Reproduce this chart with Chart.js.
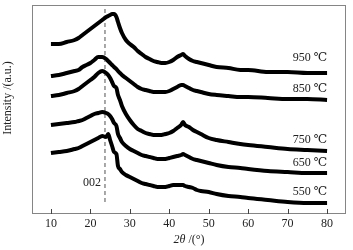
<!DOCTYPE html>
<html>
<head>
<meta charset="utf-8">
<script src="https://cdn.jsdelivr.net/npm/chart.js@4"></script>
<style>
  body { margin: 0; background: #fff; }
  canvas { display: block; }
</style>
</head>
<body>
<canvas id="xrdChart" width="353" height="250"></canvas>
<script>
// 2theta positions (deg) shared by all patterns
const angles = [10,12,14,16,17,18,19,20,21,22,23,24,24.5,25,25.5,26,26.6,27,27.5,28,29,30,31,32,33,34,35,36,37,38,39,40,41,42,43,43.5,44,45,46,47,48,50,52,55,58,60,65,70,75,80]

// intensities (a.u., stacked with offset)
const i950 = [170,170,172,174,176,179,182,185,188,191,194,197,198,199,200,200,197,192,186,181,174,170,167,163,160,157,155,153,152,151,151,152,154,157,159,160,158,155,153,152,151,149,147,146,144,144,142,142,141,141]
const i850 = [138,139,141,143,144,147,149,151,154,157,157,155,153,151,149,147,145,143,141,139,136,133,130,127,125,124,123,122,122,122,122,123,125,127,129,129,128,126,124,123,122,120,119,118,117,117,116,115,115,114]
const i750 = [118,119,121,123,125,128,131,134,137,141,143,141,139,136,132,128,126,119,114,108,100,94,89,85,83,81,80,79,79,79,80,81,83,86,89,92,89,87,84,82,80,76,74,72,70,69,67,65,64,63]
const i650 = [89,90,91,92,93,94,96,98,100,101,102,101,100,98,95,91,88,80,76,72,68,65,63,61,59,58,57,56,55,55,55,56,57,58,59,60,59,57,55,54,53,51,49,47,46,45,43,42,41,41]
const i550 = [61,62,63,65,66,68,70,72,74,76,78,77,80,74,68,62,60,48,45,42,39,37,35,33,31,30,29,28,27,27,27,28,29,29,29,29,28,27,26,24,23,22,20,18,17,16,14,12,11,11]

const seriesNames = ["950 ℃", "850 ℃", "750 ℃", "650 ℃", "550 ℃"]
const seriesData = [i950, i850, i750, i650, i550]
// where each temperature label sits (2theta, intensity)
const labelY = [156, 125, 74, 51, 22]
const labelX = 80

const xTicks = [10, 20, 30, 40, 50, 60, 70, 80]
const peak002 = 23.7

const serif = "'Liberation Serif', 'DejaVu Serif', serif"

const toPoints = (vals) => vals.map((v, i) => ({ x: angles[i], y: v }))

const datasets = seriesData.map((vals, i) => ({
  label: seriesNames[i],
  data: toPoints(vals),
  borderColor: "#000",
  borderWidth: 4,
  pointRadius: 0,
  cubicInterpolationMode: "monotone",
  order: 0
}))

datasets.push({
  label: "002",
  data: [{ x: peak002, y: 12 }, { x: peak002, y: 209 }],
  borderColor: "#6e6e6e",
  borderWidth: 1.2,
  borderDash: [4, 3],
  pointRadius: 0,
  order: 1
})

const decorations = {
  id: "decorations",
  afterDraw(chart) {
    const { ctx, chartArea: a, scales } = chart
    const x = scales.x
    const y = scales.y
    ctx.save()

    // frame
    ctx.strokeStyle = "#858585"
    ctx.lineWidth = 1
    ctx.strokeRect(a.left + 0.5, a.top + 0.5, a.right - a.left - 1, a.bottom - a.top - 1)

    // inward ticks on the bottom
    ctx.strokeStyle = "#444"
    xTicks.forEach(t => {
      const px = Math.round(x.getPixelForValue(t)) + 0.5
      ctx.beginPath()
      ctx.moveTo(px, a.bottom)
      ctx.lineTo(px, a.bottom - 5)
      ctx.stroke()
    })

    // temperature labels
    ctx.fillStyle = "#222"
    ctx.font = "12px " + serif
    ctx.textAlign = "right"
    ctx.textBaseline = "middle"
    seriesNames.forEach((name, i) => {
      ctx.fillText(name, x.getPixelForValue(labelX), y.getPixelForValue(labelY[i]))
    })
    ctx.fillText("002", x.getPixelForValue(22.7), y.getPixelForValue(31))

    // axis titles
    ctx.textAlign = "left"
    const cx = (a.left + a.right) / 2
    ctx.font = "italic 12px " + serif
    const w1 = ctx.measureText("2θ").width
    ctx.font = "12px " + serif
    const w2 = ctx.measureText(" /(°)").width
    const startX = cx - (w1 + w2) / 2
    ctx.font = "italic 12px " + serif
    ctx.fillText("2θ", startX, 240)
    ctx.font = "12px " + serif
    ctx.fillText(" /(°)", startX + w1, 240)

    ctx.translate(8, 98)
    ctx.rotate(-Math.PI / 2)
    ctx.textAlign = "center"
    ctx.fillText("Intensity /(a.u.)", 0, 0)
    ctx.restore()
  }
}

/* eslint-disable no-undef */
new Chart(document.getElementById("xrdChart"), {
  type: "line",
  data: { datasets },
  options: {
    responsive: false,
    devicePixelRatio: 1,
    animation: false,
    layout: { padding: { left: 32, right: 7, top: 5, bottom: 0 } },
    plugins: {
      legend: { display: false },
      tooltip: { enabled: false }
    },
    scales: {
      x: {
        type: "linear",
        min: 5.2,
        max: 84.8,
        afterBuildTicks: s => { s.ticks = xTicks.map(v => ({ value: v })) },
        afterFit: s => { s.height = 36 },
        grid: { display: false, drawTicks: false },
        border: { display: false },
        ticks: {
          color: "#222",
          padding: 3,
          maxRotation: 0,
          font: { family: serif, size: 12 }
        }
      },
      y: {
        display: false,
        min: 0,
        max: 209
      }
    }
  },
  plugins: [decorations]
})
</script>
</body>
</html>
